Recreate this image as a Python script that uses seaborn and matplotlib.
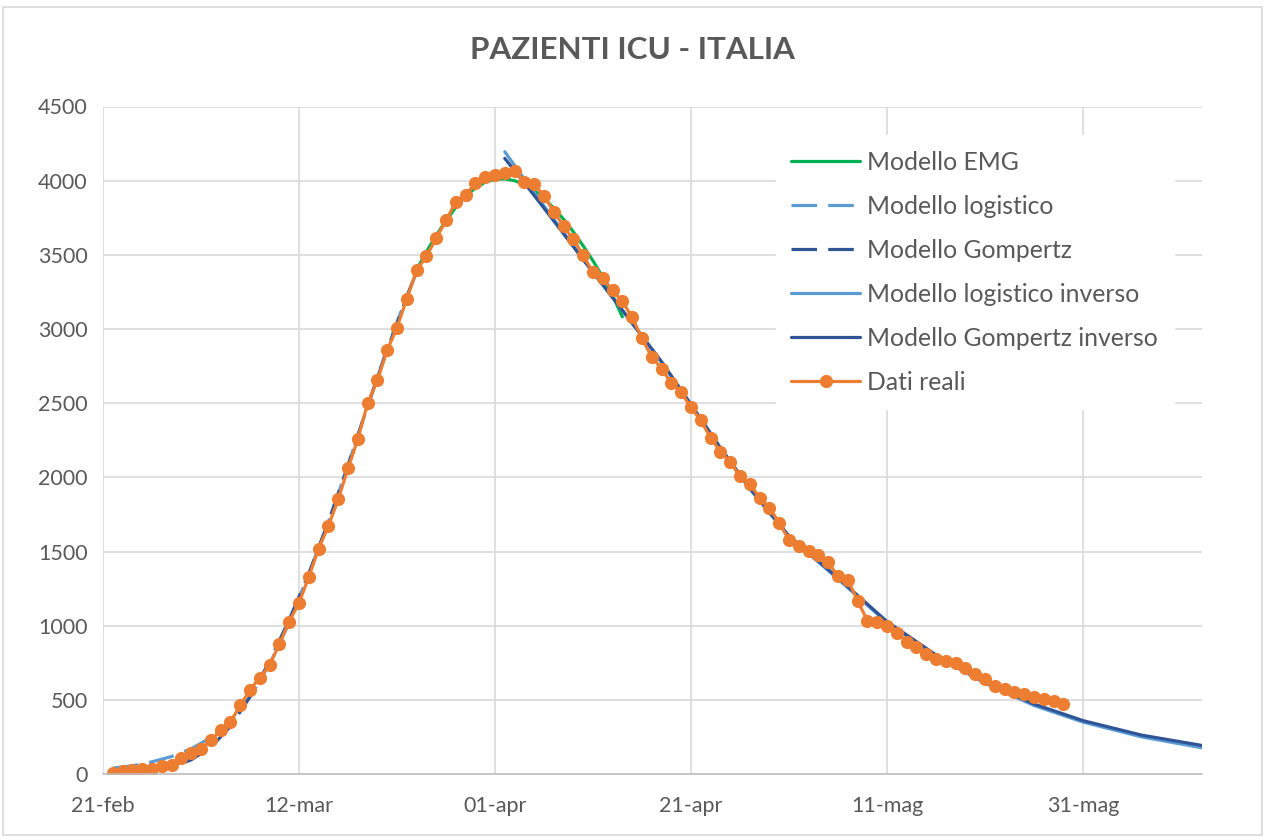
import pandas as pd
import matplotlib
matplotlib.use("Agg")
import matplotlib.pyplot as plt
from matplotlib.patches import Rectangle
import seaborn as sns

# asse x: giorni contati dal 21-feb-2020
inizio = pd.Timestamp("2020-02-21")
etichette_x = ["21-feb", "12-mar", "01-apr", "21-apr", "11-mag", "31-mag"]
tick_y = [0, 500, 1000, 1500, 2000, 2500, 3000, 3500, 4000, 4500]

# dati reali (terapia intensiva), uno al giorno dal 22-feb al 29-mag
dati_reali = [
    10, 19, 26, 35, 36, 56, 64, 105, 140, 166, 229, 295, 351, 462, 567, 650,
    733, 877, 1028, 1153, 1328, 1518, 1672, 1851, 2060, 2257, 2498, 2655,
    2857, 3009, 3204, 3396, 3489, 3612, 3732, 3856, 3906, 3981, 4023, 4035,
    4053, 4068, 3994, 3977, 3898, 3792, 3693, 3605, 3497, 3381, 3343, 3260,
    3186, 3079, 2936, 2812, 2733, 2635, 2573, 2471, 2384, 2267, 2173, 2102,
    2009, 1956, 1863, 1795, 1694, 1578, 1539, 1501, 1479, 1427, 1333, 1311,
    1168, 1034, 1027, 999, 952, 893, 855, 808, 775, 762, 749, 716, 676, 640,
    595, 572, 553, 541, 521, 505, 489, 475,
]

# modelli (giorno, valore)
giorni_emg = [32, 33, 34, 35, 36, 37, 38, 39, 40, 41, 42, 43, 44, 45, 46,
              47, 48, 49, 50, 51, 52, 53]
valori_emg = [3400, 3520, 3630, 3730, 3820, 3895, 3950, 3990, 4010, 4012,
              4000, 3975, 3935, 3880, 3815, 3740, 3655, 3560, 3460, 3350,
              3225, 3082]

giorni_salita = [1, 3, 5, 7, 9, 11, 13, 15, 17, 19, 21, 23, 25, 27, 29, 31, 32]
valori_logistico = [40, 55, 82, 118, 170, 245, 355, 520, 740, 1020, 1350,
                    1700, 2080, 2480, 2870, 3220, 3380]
valori_gompertz = [3, 10, 22, 48, 95, 180, 320, 520, 760, 1040, 1350, 1700,
                   2080, 2480, 2860, 3215, 3390]

giorni_discesa = [41, 43, 45, 47, 49, 51, 53, 55, 57, 60, 63, 66, 70, 75,
                  80, 85, 90, 95, 100, 106, 112.2]
valori_log_inv = [4195, 4010, 3830, 3650, 3470, 3298, 3125, 2950, 2775,
                  2488, 2195, 1922, 1600, 1315, 1020, 795, 612, 462, 350,
                  250, 176]
valori_gomp_inv = [4150, 3985, 3815, 3642, 3468, 3298, 3127, 2953, 2780,
                   2492, 2200, 1927, 1605, 1322, 1028, 803, 622, 472, 360,
                   262, 192]

sns.set_style("white")
plt.rcParams["font.family"] = ["Lato", "DejaVu Sans"]

fig = plt.figure(figsize=(12.65, 8.39), dpi=100)
ax = fig.add_axes([103 / 1265, 1 - 774 / 839, 1099 / 1265, 667.5 / 839])


def in_date(giorni):
    return inizio + pd.to_timedelta(giorni, unit="D")


tratteggio = (0, (8, 3.5))
lw = 2.3
sns.lineplot(x=in_date(giorni_emg), y=valori_emg, ax=ax, color="#00B050",
             lw=lw, label="Modello EMG", sort=False)
sns.lineplot(x=in_date(giorni_salita), y=valori_logistico, ax=ax,
             color="#5B9BD5", lw=lw, linestyle=tratteggio,
             label="Modello logistico", sort=False)
sns.lineplot(x=in_date(giorni_salita), y=valori_gompertz, ax=ax,
             color="#2F5597", lw=lw, linestyle=tratteggio,
             label="Modello Gompertz", sort=False)
sns.lineplot(x=in_date(giorni_discesa), y=valori_log_inv, ax=ax,
             color="#5B9BD5", lw=lw, label="Modello logistico inverso",
             sort=False)
sns.lineplot(x=in_date(giorni_discesa), y=valori_gomp_inv, ax=ax,
             color="#2F5597", lw=lw, label="Modello Gompertz inverso",
             sort=False)
date_dati = pd.date_range(inizio + pd.Timedelta(days=1),
                          periods=len(dati_reali), freq="D")
sns.lineplot(x=date_dati, y=dati_reali, ax=ax, color="#ED7D31", lw=lw,
             marker="o", markersize=9.5, markeredgewidth=0,
             label="Dati reali", sort=False)

ax.set_xlim(inizio, inizio + pd.Timedelta(days=112.15))
ax.set_ylim(0, 4500)
ax.set_xticks([inizio + pd.Timedelta(days=20 * i) for i in range(len(etichette_x))])
ax.set_xticklabels(etichette_x)
ax.set_yticks(tick_y)
ax.set_yticklabels([str(v) for v in tick_y])
ax.set_xlabel("")
ax.set_ylabel("")

ax.grid(True, color="#D9D9D9", lw=1.2)
ax.set_axisbelow(True)
for lato in ["top", "right", "left"]:
    ax.spines[lato].set_visible(False)
ax.spines["bottom"].set_color("#BFBFBF")
ax.spines["bottom"].set_linewidth(1.2)
ax.tick_params(axis="both", length=0, labelsize=15.5, colors="#595959")
ax.tick_params(axis="x", pad=16)
ax.tick_params(axis="y", pad=11)

leg = ax.legend(loc="upper left", bbox_to_anchor=(0.612, 0.957),
                fontsize=17.8, frameon=True, facecolor="white",
                edgecolor="white", fancybox=False, framealpha=1,
                handlelength=2.8, handletextpad=0.28, labelspacing=0.85,
                borderpad=0.63, borderaxespad=0, numpoints=1)
for testo in leg.get_texts():
    testo.set_color("#595959")

fig.text(0.5, 1 - 50 / 839, "PAZIENTI ICU - ITALIA", ha="center",
         va="center", fontsize=22.6, fontweight="bold", color="#595959")
fig.patches.append(Rectangle((3 / 1265, 4 / 839), 1259 / 1265, 828 / 839,
                             transform=fig.transFigure, fill=False,
                             ec="#D9D9D9", lw=1.2))

fig.savefig("out.png", dpi=100)
